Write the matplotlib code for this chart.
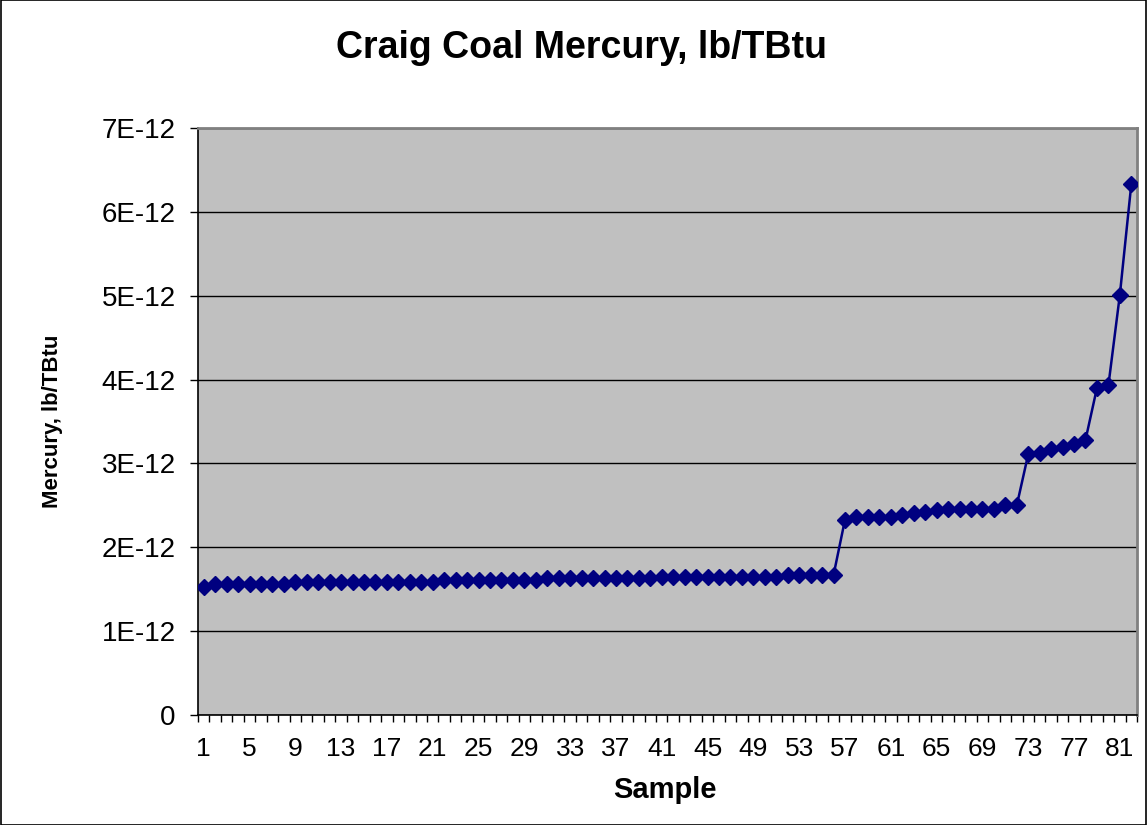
import matplotlib
matplotlib.use("Agg")
import matplotlib.pyplot as plt
from matplotlib.ticker import FixedLocator, FuncFormatter
from matplotlib.patches import Rectangle

plt.rcParams['font.family'] = ['Liberation Sans', 'DejaVu Sans']

title = "Craig Coal Mercury, lb/TBtu"
x_label = "Sample"
y_label = "Mercury, lb/TBtu"

samples = list(range(1, 83))
# mercury values, in units of 1E-12 lb/TBtu
mercury_e12 = (
    [1.53] + [1.56] * 7 + [1.59] * 13 + [1.61] * 9 + [1.63] * 10
    + [1.65] * 11 + [1.67] * 5
    + [2.33, 2.36, 2.36, 2.36, 2.36, 2.38, 2.41, 2.42, 2.44, 2.46, 2.46,
       2.46, 2.46, 2.46, 2.50, 2.50]
    + [3.11, 3.13, 3.17, 3.20, 3.23, 3.28]
    + [3.90, 3.93, 5.01, 6.33]
)
mercury = [v * 1e-12 for v in mercury_e12]
y_ticks = [0, 1e-12, 2e-12, 3e-12, 4e-12, 5e-12, 6e-12, 7e-12]
x_label_ticks = list(range(1, 83, 4))

fig = plt.figure(figsize=(11.47, 8.25), dpi=100)
fig.patches.append(Rectangle((0.0005, 0.0005), 0.999, 0.999, transform=fig.transFigure,
                             fill=False, edgecolor='black', linewidth=1.2))
ax = fig.add_axes([0.1726, 0.1333, 0.8187, 0.7115])
ax.set_facecolor('#C0C0C0')

ax.plot(samples, mercury, color='#000080', linewidth=1.8, marker='D',
        markersize=8, markerfacecolor='#000080', markeredgecolor='#000080', zorder=3)

ax.set_xlim(0.5, 82.5)
ax.set_ylim(0, 7e-12)
ax.yaxis.set_major_locator(FixedLocator(y_ticks))

def yfmt(v, pos):
    n = round(v / 1e-12)
    return "0" if n == 0 else f"{n}E-12"
ax.yaxis.set_major_formatter(FuncFormatter(yfmt))
ax.yaxis.grid(True, color='black', linewidth=1.0)
ax.set_axisbelow(True)

ax.xaxis.set_major_locator(FixedLocator([i + 0.5 for i in range(0, 83)]))
ax.xaxis.set_major_formatter(FuncFormatter(lambda v, p: ""))
ax.xaxis.set_minor_locator(FixedLocator(x_label_ticks))
ax.xaxis.set_minor_formatter(FuncFormatter(lambda v, p: str(int(round(v)))))
ax.tick_params(axis='x', which='major', direction='out', length=5, width=1, color='black')
ax.tick_params(axis='x', which='minor', length=0, pad=16, labelsize=19)
ax.tick_params(axis='y', direction='out', length=6, width=1, labelsize=20, pad=10)

for s in ['left', 'bottom']:
    ax.spines[s].set_color('black')
    ax.spines[s].set_linewidth(1.2)
for s in ['top', 'right']:
    ax.spines[s].set_color('#808080')
    ax.spines[s].set_linewidth(2)

ax.set_xlabel(x_label, fontsize=21, fontweight='bold', va='center')
ax.xaxis.set_label_coords(0.497, -0.128)
ax.set_ylabel(y_label, fontsize=16, fontweight='bold', va='center')
ax.yaxis.set_label_coords(-0.155, 0.5)
fig.text(0.507, 0.942, title, ha='center', va='center', fontsize=27, fontweight='bold')

fig.savefig("out.png", dpi=100)
